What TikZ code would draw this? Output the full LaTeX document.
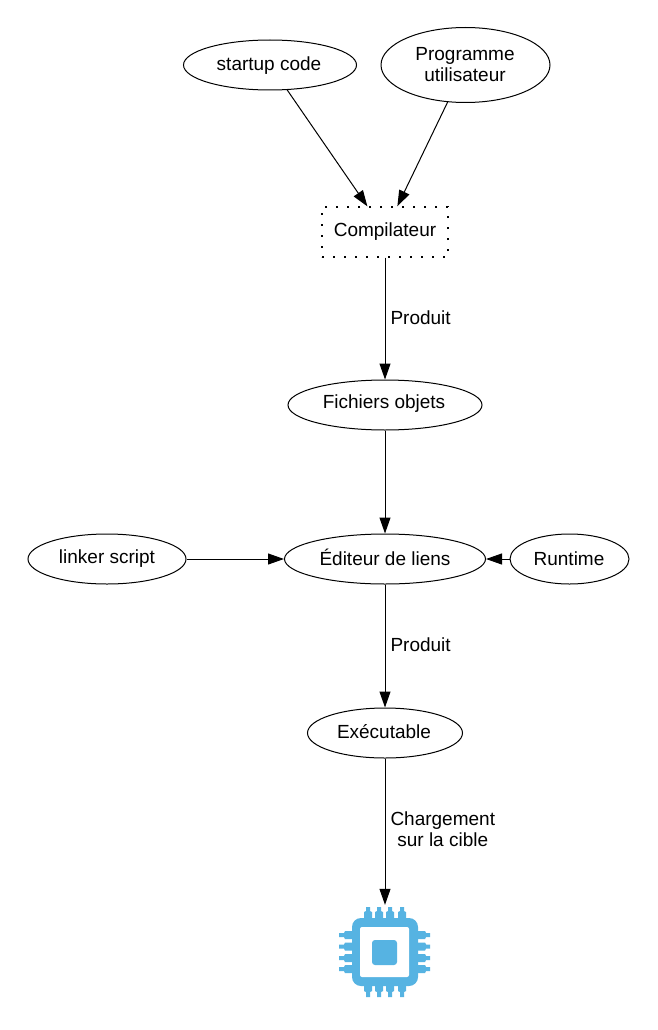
\documentclass[tikz,border=0pt]{standalone}
\usepackage{fontspec}
\setmainfont{Liberation Sans}
\usetikzlibrary{shapes.geometric,arrows.meta}
\definecolor{chipblue}{HTML}{56B3E2}
\tikzset{
  ell/.style={ellipse,draw=black,line width=1pt,inner sep=0pt,fill=white},
  lab/.style={inner sep=0pt,align=center,font=\fontsize{19}{20.5}\selectfont},
  edge/.style={draw=black,line width=1pt,-{Triangle[length=16pt,width=11pt]}},
  pin/.style={fill=chipblue,draw=none},
}
\begin{document}
\begin{tikzpicture}[x=1pt,y=-1pt]
\useasboundingbox (0,0) rectangle (657,1030);
\fill[white] (0,0) rectangle (657,1030);
% nodes
\node[ell,minimum width=173pt,minimum height=50pt] (startup) at (270,65) {};
\node[ell,minimum width=169pt,minimum height=75pt] (prog) at (465.5,65) {};
\node[draw=black,line width=1.25pt,dash pattern=on 1.6pt off 9.4pt,minimum width=126pt,minimum height=50pt,inner sep=0pt] (comp) at (385,232) {};
\node[ell,minimum width=194pt,minimum height=50pt] (fich) at (385,405) {};
\node[ell,minimum width=201pt,minimum height=50pt] (edit) at (385,559) {};
\node[ell,minimum width=158pt,minimum height=50pt] (linker) at (107,559) {};
\node[ell,minimum width=119pt,minimum height=50pt] (runtime) at (569.5,559) {};
\node[ell,minimum width=155pt,minimum height=50pt] (exec) at (385,733) {};
\node[minimum width=92pt,minimum height=94pt,inner sep=0pt] (chip) at (385,952) {};
% texts
\node[lab] (t1) at (269,65.5) {startup code};
\node[lab] (t2) at (465,64.5) {Programme\\utilisateur};
\node[lab] (t3) at (385,232) {Compilateur};
\node[lab] (t4) at (384,403.5) {Fichiers objets};
\node[lab] (t5) at (385,557.5) {Éditeur de liens};
\node[lab] (t6) at (107,559) {linker script};
\node[lab] (t7) at (569,559) {Runtime};
\node[lab] (t8) at (384,732) {Exécutable};
% connectors
\draw[edge] (startup) -- (comp);
\draw[edge] (prog) -- (comp);
\draw[edge] (comp) -- node[lab,right=5pt,yshift=1pt] (p1) {Produit} (fich);
\draw[edge] (fich) -- (edit);
\draw[edge] (linker) -- (edit);
\draw[edge] (runtime) -- (edit);
\draw[edge] (edit) -- node[lab,right=5pt,yshift=1pt] (p2) {Produit} (exec);
\draw[edge] (exec) -- node[lab,right=5pt,yshift=2.5pt] (p3) {Chargement\\sur la cible} (chip);
% chip icon
\begin{scope}[shift={(385,952)}]
  \foreach \p in {-17,-6,5,17}{
    \fill[pin] (\p-4,-34) -- (\p-4,-40) -- (\p-2,-41) -- (\p-2,-45) -- (\p+2,-45) -- (\p+2,-41) -- (\p+4,-40) -- (\p+4,-34) -- cycle;
    \fill[pin] (\p-4,34) -- (\p-4,39) -- (\p-2,40) -- (\p-2,45) -- (\p+2,45) -- (\p+2,40) -- (\p+4,39) -- (\p+4,34) -- cycle;
  }
  \foreach \p in {-17,-5.5,6,17}{
    \fill[pin] (-33,\p-4) -- (-40,\p-4) -- (-41,\p-2) -- (-46,\p-2) -- (-46,\p+2) -- (-41,\p+2) -- (-40,\p+4) -- (-33,\p+4) -- cycle;
    \fill[pin] (33,\p-4) -- (40,\p-4) -- (41,\p-2) -- (45,\p-2) -- (45,\p+2) -- (41,\p+2) -- (40,\p+4) -- (33,\p+4) -- cycle;
  }
  \fill[chipblue,rounded corners=9pt] (-33,-34) rectangle (33,34);
  \fill[white,rounded corners=2pt] (-25,-25) rectangle (24,25);
  \fill[chipblue,rounded corners=3pt] (-13,-12) rectangle (12,13);
\end{scope}
\end{tikzpicture}
\end{document}
